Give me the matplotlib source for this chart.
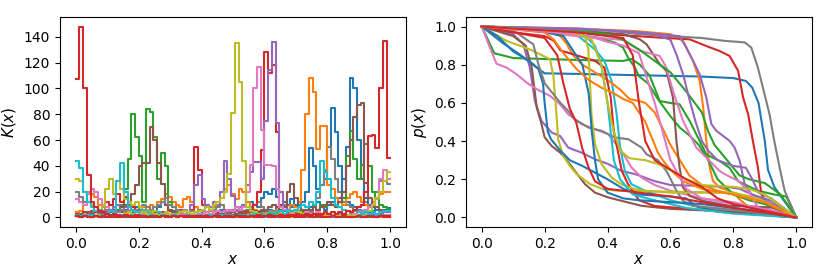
import numpy as np
import matplotlib
matplotlib.use("Agg")
import matplotlib.pyplot as plt

plt.rcParams['font.size'] = 10

# ---------------- Left panel: K(x), 85 bins on [0, 1] ----------------
n_bins = 85
bin_edges = np.linspace(0, 1, n_bins + 1)

K_red_a = [107,148,100,33,12,8,5,4,3,2, 3,2,1,2,1,1,2,1,1,0, 1,1,0,1,1,0,1,0,1,1,
           0,1,0,0,1,0,0,1,0,0, 1,0,0,1,0,0,0,1,0,0, 0,1,0,0,1,0,0,0,1,0,
           0,0,1,0,0,1,0,0,0,1, 0,0,1,0,0,0,1,0,0,1, 0,0,1,0,0]
K_cyan_a = [44,38,20,12,8,5,6,4,3,5, 4,28,42,20,8,5,4,3,6,4, 3,2,4,3,2,3,1,2,2,1,
            2,1,1,2,1,1,0,1,1,2, 1,1,0,1,1,0,1,1,0,1, 1,0,1,1,0,1,0,1,1,0,
            1,1,0,1,0,1,1,0,1,0, 1,0,1,1,0,1,0,1,0,1, 1,0,1,1,0]
K_olive_a = [30,28,20,12,10,8,6,9,22,30, 18,28,22,14,12,10,12,8,6,5, 4,5,4,3,3,2,2,3,2,2,
             1,2,1,1,2,1,1,1,2,1, 1,1,1,0,1,1,1,0,1,1, 0,1,1,0,1,0,1,1,0,1,
             1,0,1,0,1,1,0,1,0,1, 0,1,1,0,1,0,1,0,1,1, 0,1,0,1,1]
K_pink_a = [14,12,10,18,22,20,14,10,8,6, 5,4,6,5,4,3,5,4,3,2, 4,3,2,3,2,2,3,2,1,2,
            2,1,2,1,1,2,1,1,2,1, 1,2,1,1,1,2,1,1,1,2, 1,1,2,1,1,1,1,2,1,1,
            1,2,1,1,1,2,1,1,1,1, 2,1,1,1,2,1,1,2,1,1, 2,1,2,2,2]
K_green_a = [1,2,1,2,3,2,3,4,5,6, 8,6,10,22,45,80,62,48,12,84, 82,62,30,50,40,12,8,5,4,3,
             2,3,2,1,2,1,1,2,1,1, 0,1,1,0,1,0,1,1,0,1, 0,1,0,1,1,0,1,0,0,1,
             0,1,0,1,0,0,1,0,1,0, 0,1,0,1,0,1,0,0,1,0, 1,0,1,0,0]
K_brown_a = [2,3,2,4,3,5,4,3,4,5, 6,5,8,10,12,18,25,40,42,42, 70,60,42,26,10,6,4,3,2,3,
             2,2,1,2,1,1,2,1,1,1, 1,1,2,1,1,1,1,1,2,1, 1,1,1,2,1,1,1,3,1,1,
             1,1,1,1,2,1,1,1,1,1, 1,2,1,1,1,1,1,1,2,1, 1,1,1,1,1]
K_red_b = [3,2,4,3,5,4,6,9,12,10, 14,18,12,16,10,8,6,5,4,3, 5,4,3,4,3,5,4,3,6,5,
           4,6,55,37,10,8,6,5,4,3, 4,3,2,3,2,1,2,1,1,2, 1,1,2,1,1,1,2,1,1,1,
           1,2,1,1,1,1,1,2,1,1, 1,1,1,2,1,1,1,1,1,1, 1,1,2,1,1]
K_purple_a = [2,1,2,3,4,5,3,4,6,5, 8,10,6,8,5,6,4,5,3,4, 3,5,4,3,4,3,2,4,3,5,
              4,10,25,33,14,10,8,12,10,20, 44,30,17,8,5,4,3,4,3,2, 3,2,2,3,2,2,1,2,2,1,
              2,1,2,1,1,2,1,1,2,1, 1,1,2,1,1,1,2,1,1,1, 1,2,1,1,1]
K_orange_a = [4,5,12,20,18,16,10,8,6,5, 4,5,6,4,5,6,4,5,8,6, 10,8,12,14,18,16,12,10,8,14,
              16,12,8,6,5,4,6,8,10,15, 22,25,18,14,22,20,12,8,6,5, 4,5,4,3,4,3,2,3,2,2,
              3,2,2,1,2,2,1,2,1,1, 2,1,2,1,1,2,1,1,2,1, 1,2,1,1,2]
K_olive_b = [1,1,2,1,1,2,1,1,2,2, 3,2,2,3,4,3,2,3,4,3, 2,3,2,3,4,3,2,3,4,5,
             4,3,4,5,6,8,6,10,12,15, 20,34,81,135,105,44,8,5,4,3, 2,3,2,3,2,4,3,2,3,5,
             4,3,2,3,2,2,3,2,2,1, 2,1,2,2,1,2,1,2,3,5, 10,15,20,28,35]
K_pink_b = [1,1,1,1,1,1,1,1,2,1, 1,2,1,1,2,1,2,1,2,2, 1,2,2,1,2,2,3,2,2,3,
            2,3,2,3,3,4,3,4,5,4, 5,6,5,8,6,8,20,41,100,117, 68,41,41,40,22,8,6,5,4,5,
            4,3,4,3,3,4,3,2,3,2, 3,2,3,2,4,3,5,4,6,8, 10,14,30,37,30]
K_red_c = [1,1,1,1,0,1,1,0,1,1, 1,0,1,1,1,0,1,1,1,0, 1,1,1,1,0,1,1,1,1,1,
           1,1,2,1,1,1,2,1,2,2, 2,3,2,3,4,3,5,6,10,20, 52,128,112,118,66,10,6,5,4,3,
           3,2,3,2,2,3,2,2,1,2, 2,1,2,1,2,1,1,2,1,1, 1,2,1,1,1]
K_purple_b = [1,1,1,1,1,1,1,1,1,1, 1,1,2,1,1,1,2,1,1,2, 1,2,1,2,2,1,2,2,3,2,
              2,3,2,3,3,2,3,4,3,4, 5,4,6,5,8,10,25,35,43,43, 30,75,114,136,73,20,10,6,5,4,
              4,3,3,4,3,2,3,2,3,2, 2,3,2,2,3,2,2,3,2,2, 3,2,3,4,4]
K_blue_a = [2,3,2,4,3,2,4,3,5,4, 3,5,4,6,5,4,8,6,5,4, 6,5,8,12,10,6,5,4,6,5,
            4,5,4,3,5,4,6,5,4,6, 5,4,6,8,6,10,8,12,10,8, 15,20,18,22,16,20,12,10,14,8,
            10,12,20,54,40,22,25,30,55,85, 66,40,20,12,10,8,6,5,6,4, 5,6,5,6,7]
K_orange_b = [1,1,1,2,1,1,2,1,1,1, 2,1,1,1,2,1,1,1,2,1, 1,2,1,1,1,2,1,1,2,1,
              1,2,1,1,2,1,2,1,2,2, 1,2,2,3,2,2,3,2,3,4, 3,4,5,4,6,5,8,6,10,8,
              12,37,80,108,97,53,71,71,25,22, 15,12,10,15,18,20,16,12,10,8, 12,15,18,20,20]
K_gray_a = [20,16,12,12,10,8,6,5,4,6, 5,4,6,5,4,5,6,8,10,8, 6,8,10,12,15,10,8,6,5,6,
            4,5,4,6,5,4,5,6,8,10, 6,5,4,6,5,4,6,8,10,12, 8,6,5,4,6,8,6,5,4,6,
            5,6,5,8,10,15,25,37,55,45, 30,20,12,10,8,6,8,10,12,8, 10,20,28,28,26]
K_cyan_b = [2,1,2,1,2,1,1,2,1,2, 1,1,2,1,1,2,1,2,1,1, 2,1,1,2,1,1,2,1,1,1,
            2,1,1,2,1,1,2,1,1,2, 1,2,1,1,2,2,1,2,3,2, 3,2,4,3,4,5,3,6,5,6,
            8,10,8,12,10,20,44,35,30,15, 10,8,6,5,4,5,4,3,4,3, 4,3,4,5,5]
K_blue_c = [1,1,2,1,1,1,2,1,1,1, 2,1,1,1,2,1,1,2,1,1, 1,2,1,1,2,1,1,2,1,2,
            1,2,1,2,2,1,2,2,3,2, 2,3,2,3,3,2,3,4,3,4, 5,4,6,5,8,6,5,6,8,10,
            8,6,5,8,10,12,8,6,10,12, 10,15,30,55,108,100,60,30,15,10, 8,6,5,5,6]
K_brown_b = [1,2,1,1,2,1,1,2,1,1, 2,1,1,2,1,2,1,1,2,1, 1,2,1,2,1,2,2,1,2,2,
             1,2,2,3,2,2,3,2,3,3, 2,3,4,3,4,5,4,6,5,4, 6,5,8,10,8,5,8,20,26,15,
             8,6,5,6,8,6,8,10,12,10, 8,12,20,40,60,78,87,89,27,15, 10,8,6,5,5]
K_green_b = [1,0,1,1,0,1,1,0,1,1, 0,1,1,0,1,1,0,1,0,1, 1,0,1,1,0,1,1,0,1,1,
             1,0,1,1,1,0,1,1,1,2, 1,1,2,1,1,2,1,2,2,1, 2,2,3,2,3,2,3,4,3,4,
             5,4,6,5,8,6,10,8,12,10, 8,12,15,48,67,45,30,41,57,40, 20,15,10,8,6]
K_red_d = [1,0,1,0,0,1,0,1,0,0, 1,0,0,1,0,1,0,0,1,0, 0,1,0,1,0,0,1,0,1,0,
           1,0,1,1,0,1,0,1,1,0, 1,1,0,1,1,1,0,1,1,2, 1,1,2,1,1,2,1,2,2,1,
           2,2,3,2,3,2,3,4,3,4, 3,4,3,5,4,6,8,10,20,63, 64,54,100,137,46]

K_series = [
    (K_blue_a, '#1f77b4'), (K_orange_a, '#ff7f0e'), (K_green_a, '#2ca02c'),
    (K_red_b, '#d62728'), (K_purple_a, '#9467bd'), (K_brown_a, '#8c564b'),
    (K_pink_a, '#e377c2'), (K_gray_a, '#7f7f7f'), (K_olive_a, '#bcbd22'),
    (K_cyan_a, '#17becf'), (K_blue_c, '#1f77b4'), (K_orange_b, '#ff7f0e'),
    (K_green_b, '#2ca02c'), (K_red_c, '#d62728'), (K_purple_b, '#9467bd'),
    (K_brown_b, '#8c564b'), (K_pink_b, '#e377c2'), (K_olive_b, '#bcbd22'),
    (K_cyan_b, '#17becf'), (K_red_a, '#d62728'), (K_red_d, '#d62728'),
]

# ---------------- Right panel: p(x) curves (x, y keypoints) ----------------
p_blue_flat_x = [0,0.07,0.12,0.175,0.2,0.3,0.5,0.7,0.8,0.84,0.86,0.88,0.89,0.9,0.91,0.93,0.96,1]
p_blue_flat_y = [1,0.91,0.855,0.785,0.755,0.752,0.745,0.738,0.73,0.715,0.68,0.6,0.5,0.4,0.25,0.16,0.09,0]
p_blue_s1_x = [0,0.05,0.1,0.15,0.18,0.195,0.2,0.21,0.22,0.25,0.28,0.32,0.36,0.4,0.45,0.5,0.6,0.65,0.68,0.75,1]
p_blue_s1_y = [1,0.95,0.87,0.82,0.78,0.7,0.6,0.45,0.41,0.35,0.3,0.27,0.235,0.2,0.15,0.12,0.11,0.1,0.06,0.03,0]
p_blue_s2_x = [0,0.1,0.2,0.26,0.3,0.32,0.34,0.35,0.36,0.37,0.4,0.45,0.5,0.6,0.7,0.8,0.9,1]
p_blue_s2_y = [1,0.99,0.97,0.95,0.85,0.8,0.65,0.45,0.3,0.2,0.13,0.1,0.09,0.08,0.07,0.05,0.03,0]
p_orange_top_x = [0,0.3,0.5,0.6,0.64,0.672,0.693,0.704,0.714,0.725,0.735,0.756,0.788,0.804,0.825,0.857,1]
p_orange_top_y = [1,0.99,0.975,0.96,0.925,0.82,0.715,0.576,0.401,0.262,0.192,0.157,0.14,0.122,0.087,0.044,0]
p_orange_m1_x = [0,0.2,0.25,0.27,0.29,0.32,0.36,0.4,0.44,0.47,0.5,0.52,0.55,0.58,0.6,0.63,0.66,0.7,0.75,0.85,0.95,1]
p_orange_m1_y = [1,0.98,0.95,0.91,0.85,0.8,0.76,0.72,0.67,0.62,0.61,0.6,0.55,0.45,0.38,0.3,0.22,0.17,0.14,0.1,0.05,0]
p_orange_m2_x = [0,0.2,0.23,0.26,0.3,0.34,0.38,0.42,0.45,0.48,0.5,0.52,0.54,0.56,0.58,0.6,0.64,0.7,0.8,0.9,1]
p_orange_m2_y = [1,0.97,0.93,0.86,0.78,0.72,0.68,0.65,0.62,0.6,0.55,0.5,0.42,0.34,0.29,0.25,0.19,0.15,0.12,0.08,0]
p_green_1_x = [0,0.02,0.04,0.1,0.3,0.45,0.476,0.503,0.534,0.566,0.598,0.629,0.661,0.693,0.714,0.756,0.788,0.815,0.878,0.93,0.968,1]
p_green_1_y = [1,0.93,0.86,0.835,0.825,0.82,0.83,0.80,0.742,0.61,0.60,0.593,0.506,0.40,0.33,0.296,0.26,0.19,0.14,0.12,0.11,0]
p_green_2_x = [0,0.2,0.37,0.423,0.449,0.465,0.487,0.5,0.53,0.56,0.6,0.63,0.66,0.69,0.72,0.75,0.8,0.85,0.9,1]
p_green_2_y = [1,0.98,0.942,0.916,0.89,0.838,0.785,0.74,0.7,0.62,0.53,0.47,0.43,0.38,0.3,0.2,0.12,0.09,0.07,0]
p_green_3_x = [0,0.3,0.4,0.45,0.5,0.55,0.6,0.65,0.7,0.72,0.74,0.78,0.82,0.85,0.9,0.95,1]
p_green_3_y = [1,0.98,0.96,0.93,0.88,0.82,0.76,0.66,0.55,0.45,0.38,0.3,0.22,0.2,0.18,0.12,0]
p_red_top_x = [0,0.3,0.566,0.661,0.714,0.756,0.788,0.815,0.831,0.847,0.862,0.878,0.889,0.91,0.952,1]
p_red_top_y = [1,0.97,0.942,0.933,0.898,0.872,0.846,0.768,0.628,0.54,0.401,0.262,0.122,0.061,0.035,0]
p_red_mid_x = [0,0.1,0.2,0.23,0.25,0.29,0.32,0.36,0.39,0.41,0.42,0.435,0.445,0.465,0.5,0.55,0.7,1]
p_red_mid_y = [1,0.97,0.95,0.925,0.875,0.855,0.84,0.82,0.785,0.63,0.45,0.33,0.245,0.175,0.09,0.06,0.04,0]
p_red_2_x = [0,0.1,0.2,0.24,0.26,0.28,0.3,0.31,0.32,0.34,0.36,0.4,0.45,0.5,0.6,0.7,0.8,1]
p_red_2_y = [1,0.97,0.94,0.85,0.7,0.57,0.5,0.43,0.36,0.26,0.19,0.15,0.14,0.13,0.11,0.08,0.05,0]
p_red_3_x = [0,0.3,0.4,0.45,0.48,0.5,0.52,0.55,0.6,0.65,0.7,0.75,0.8,1]
p_red_3_y = [1,0.97,0.95,0.94,0.85,0.6,0.4,0.3,0.25,0.2,0.16,0.1,0.07,0]
p_purple_1_x = [0,0.1,0.132,0.153,0.169,0.19,0.222,0.249,0.275,0.317,0.36,0.402,0.444,0.487,0.5,0.55,0.6,0.7,0.78,0.82,0.86,0.95,1]
p_purple_1_y = [1,0.96,0.907,0.785,0.61,0.506,0.445,0.427,0.366,0.34,0.305,0.28,0.244,0.227,0.22,0.19,0.17,0.165,0.16,0.15,0.12,0.05,0]
p_purple_2_x = [0,0.3,0.503,0.629,0.65,0.672,0.693,0.714,0.73,0.746,0.788,0.804,0.82,0.836,0.857,0.92,1]
p_purple_2_y = [1,0.99,0.97,0.95,0.89,0.82,0.75,0.628,0.489,0.454,0.401,0.366,0.297,0.175,0.122,0.087,0]
p_purple_3_x = [0,0.4,0.55,0.6,0.62,0.64,0.66,0.68,0.7,0.72,0.75,0.8,0.84,0.86,0.88,0.92,1]
p_purple_3_y = [1,0.98,0.96,0.93,0.85,0.75,0.62,0.5,0.4,0.35,0.3,0.27,0.26,0.2,0.13,0.1,0]
p_brown_1_x = [0,0.1,0.14,0.159,0.175,0.19,0.2,0.222,0.249,0.264,0.296,0.328,0.36,0.402,0.445,0.508,0.6,0.8,1]
p_brown_1_y = [1,0.95,0.9,0.785,0.576,0.489,0.42,0.375,0.34,0.314,0.244,0.175,0.13,0.105,0.087,0.061,0.045,0.03,0]
p_brown_2_x = [0,0.3,0.45,0.503,0.524,0.545,0.566,0.587,0.608,0.619,0.629,0.64,0.661,0.703,0.788,0.93,1]
p_brown_2_y = [1,0.98,0.96,0.933,0.907,0.855,0.803,0.768,0.628,0.401,0.262,0.157,0.113,0.087,0.061,0.052,0]
p_pink_1_x = [0,0.026,0.047,0.079,0.111,0.143,0.175,0.217,0.249,0.275,0.317,0.36,0.402,0.444,0.476,0.508,0.55,0.6,0.7,0.8,0.9,1]
p_pink_1_y = [1,0.89,0.805,0.785,0.75,0.706,0.672,0.637,0.593,0.54,0.489,0.462,0.436,0.349,0.262,0.209,0.17,0.14,0.1,0.07,0.05,0]
p_pink_2_x = [0,0.2,0.3,0.45,0.503,0.566,0.587,0.608,0.64,0.682,0.714,0.756,0.772,0.815,0.847,0.878,1]
p_pink_2_y = [1,0.97,0.95,0.93,0.873,0.846,0.785,0.663,0.506,0.366,0.314,0.244,0.227,0.192,0.14,0.052,0]
p_pink_3_x = [0,0.3,0.36,0.4,0.45,0.5,0.55,0.6,0.65,0.7,0.8,0.85,1]
p_pink_3_y = [1,0.96,0.94,0.92,0.9,0.86,0.6,0.3,0.15,0.1,0.08,0.06,0]
p_gray_top_x = [0,0.2,0.4,0.5,0.6,0.7,0.772,0.836,0.857,0.878,0.899,0.915,0.93,0.947,0.963,1]
p_gray_top_y = [1,0.99,0.98,0.96,0.95,0.94,0.925,0.917,0.89,0.785,0.646,0.54,0.401,0.262,0.14,0]
p_gray_mid_x = [0,0.1,0.164,0.18,0.201,0.228,0.249,0.275,0.296,0.339,0.381,0.423,0.466,0.508,0.524,0.56,0.587,0.598,0.619,0.64,0.672,0.8,1]
p_gray_mid_y = [1,0.98,0.907,0.803,0.7,0.646,0.602,0.558,0.514,0.471,0.454,0.419,0.41,0.366,0.331,0.3,0.244,0.209,0.14,0.087,0.061,0.04,0]
p_olive_1_x = [0,0.079,0.153,0.185,0.217,0.228,0.238,0.243,0.259,0.28,0.302,0.344,0.386,0.43,0.6,0.8,0.88,1]
p_olive_1_y = [1,0.925,0.88,0.855,0.829,0.74,0.532,0.41,0.323,0.27,0.227,0.175,0.148,0.14,0.135,0.13,0.1,0]
p_olive_2_x = [0,0.2,0.328,0.339,0.344,0.349,0.36,0.381,0.413,0.444,0.487,0.519,0.6,0.8,0.85,0.9,1]
p_olive_2_y = [1,0.98,0.95,0.88,0.71,0.54,0.384,0.279,0.209,0.174,0.148,0.14,0.13,0.13,0.1,0.08,0]
p_olive_3_x = [0,0.3,0.35,0.38,0.4,0.42,0.44,0.47,0.52,0.56,0.6,0.65,0.7,0.8,0.85,0.9,1]
p_olive_3_y = [1,0.97,0.93,0.8,0.6,0.45,0.35,0.31,0.3,0.28,0.25,0.2,0.17,0.16,0.15,0.12,0]
p_cyan_1_x = [0,0.2,0.307,0.36,0.39,0.413,0.429,0.44,0.455,0.476,0.519,0.6,0.7,0.8,1]
p_cyan_1_y = [1,0.99,0.95,0.88,0.82,0.715,0.54,0.366,0.244,0.174,0.14,0.09,0.05,0.03,0]
p_cyan_2_x = [0,0.2,0.3,0.33,0.36,0.38,0.4,0.41,0.42,0.44,0.48,0.55,0.65,0.8,1]
p_cyan_2_y = [1,0.99,0.97,0.95,0.9,0.8,0.6,0.45,0.3,0.2,0.12,0.09,0.05,0.02,0]

p_series = [
    (p_blue_flat_x, p_blue_flat_y, '#1f77b4'), (p_orange_top_x, p_orange_top_y, '#ff7f0e'),
    (p_green_1_x, p_green_1_y, '#2ca02c'), (p_red_top_x, p_red_top_y, '#d62728'),
    (p_purple_1_x, p_purple_1_y, '#9467bd'), (p_brown_1_x, p_brown_1_y, '#8c564b'),
    (p_pink_1_x, p_pink_1_y, '#e377c2'), (p_gray_top_x, p_gray_top_y, '#7f7f7f'),
    (p_olive_1_x, p_olive_1_y, '#bcbd22'), (p_cyan_1_x, p_cyan_1_y, '#17becf'),
    (p_blue_s1_x, p_blue_s1_y, '#1f77b4'), (p_orange_m1_x, p_orange_m1_y, '#ff7f0e'),
    (p_green_2_x, p_green_2_y, '#2ca02c'), (p_red_mid_x, p_red_mid_y, '#d62728'),
    (p_purple_2_x, p_purple_2_y, '#9467bd'), (p_brown_2_x, p_brown_2_y, '#8c564b'),
    (p_pink_2_x, p_pink_2_y, '#e377c2'), (p_gray_mid_x, p_gray_mid_y, '#7f7f7f'),
    (p_olive_2_x, p_olive_2_y, '#bcbd22'), (p_cyan_2_x, p_cyan_2_y, '#17becf'),
    (p_blue_s2_x, p_blue_s2_y, '#1f77b4'), (p_orange_m2_x, p_orange_m2_y, '#ff7f0e'),
    (p_green_3_x, p_green_3_y, '#2ca02c'), (p_red_2_x, p_red_2_y, '#d62728'),
    (p_purple_3_x, p_purple_3_y, '#9467bd'), (p_pink_3_x, p_pink_3_y, '#e377c2'),
    (p_olive_3_x, p_olive_3_y, '#bcbd22'), (p_red_3_x, p_red_3_y, '#d62728'),
]

fig = plt.figure(figsize=(8.3, 2.77), dpi=100)
ax1 = fig.add_axes([60/830, 50/277, 346/830, 210/277])
ax2 = fig.add_axes([466/830, 50/277, 346/830, 210/277])

for vals, col in K_series:
    v = np.asarray(vals, dtype=float)
    ax1.step(bin_edges, np.append(v, v[-1]), where='post', color=col, lw=1.5)
ax1.set_xlabel('$x$', fontsize=11, labelpad=1)
ax1.set_ylabel('$K(x)$', fontsize=11)
ax1.set_xticks([0, 0.2, 0.4, 0.6, 0.8, 1.0])
ax1.set_yticks([0, 20, 40, 60, 80, 100, 120, 140])

for xs, ys, col in p_series:
    ax2.plot(xs, ys, color=col, lw=1.5)
ax2.set_xlabel('$x$', fontsize=11, labelpad=1)
ax2.set_ylabel('$p(x)$', fontsize=11)
ax2.set_xticks([0, 0.2, 0.4, 0.6, 0.8, 1.0])
ax2.set_yticks([0, 0.2, 0.4, 0.6, 0.8, 1.0])

fig.savefig('out.png', dpi=100)
